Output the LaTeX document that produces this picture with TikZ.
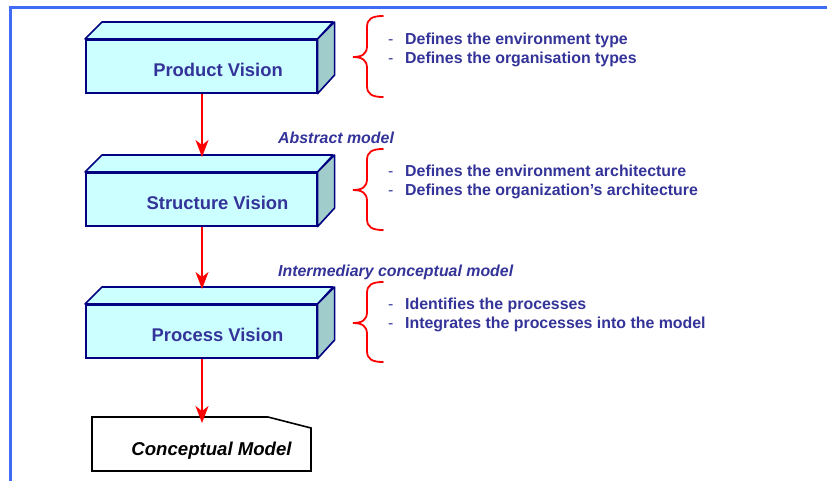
\documentclass[tikz,border=0pt]{standalone}
\usepackage{fontspec}
\setmainfont{Liberation Sans}
\usetikzlibrary{arrows.meta}
\definecolor{txtblue}{HTML}{333399}
\definecolor{boxfill}{HTML}{CCFFFF}
\definecolor{sidefill}{HTML}{A0CCCC}
\definecolor{navy}{HTML}{000080}
\definecolor{framebl}{HTML}{3F6BF5}
\begin{document}
\begin{tikzpicture}[x=1pt,y=-1pt,
  front/.style={draw=navy,fill=boxfill,line width=1.6pt,minimum width=231pt,minimum height=53pt,inner sep=0pt},
  face/.style={draw=navy,line width=1.6pt,line join=round},
  title/.style={anchor=base,text=txtblue,font=\fontsize{18.4}{22}\selectfont\bfseries,inner sep=0pt},
  bullet/.style={anchor=base west,text=txtblue,font=\fontsize{15.9}{19}\selectfont\bfseries,inner sep=0pt},
  dashmark/.style={anchor=base west,text=txtblue,font=\fontsize{15.9}{19}\selectfont,inner sep=0pt},
  note/.style={anchor=base west,text=txtblue,font=\fontsize{15.9}{19}\selectfont\bfseries\itshape,inner sep=0pt},
  flow/.style={draw=red,line width=1.6pt,-{Stealth[length=17pt,width=13pt,inset=5pt]}},
  brace/.style={draw=red,line width=1.8pt,line cap=round}]
\useasboundingbox (0,0) rectangle (827,480);
% frame
\draw[framebl,line width=3pt] (10,481) -- (10,7) -- (828,7);
% boxes
\foreach \n/\y in {pv/39,sv/172,prv/304}{
  \node[front,anchor=north west] (\n) at (85,\y) {};
  \draw[face,fill=boxfill] (\n.north west) -- ++(17,-17) -- ++(231,0) -- (\n.north east) -- cycle;
  \draw[face,fill=sidefill] (\n.north east) -- ++(17,-17) -- ++(0,53) -- (\n.south east) -- cycle;
}
\node[title] (pvt) at (218,76) {Product Vision};
\node[title] (svt) at (217.5,209) {Structure Vision};
\node[title] (prvt) at (217.5,341) {Process Vision};
% conceptual model
\coordinate (cm1) at (92,417);
\coordinate (cm2) at (268,417);
\coordinate (cm3) at (311,428);
\coordinate (cm4) at (311,471);
\coordinate (cm5) at (92,471);
\draw[black,line width=1.6pt,line join=miter] (cm1) -- (cm2) -- (cm3) -- (cm4) -- (cm5) -- cycle;
\node[anchor=base,font=\fontsize{18.6}{22}\selectfont\bfseries\itshape,inner sep=0pt] (cmt) at (211.5,455) {Conceptual Model};
% arrows
\coordinate (a1) at (202,157);
\coordinate (a2) at (202,289);
\coordinate (a3) at (202,423);
\draw[flow] (pv.south -| a1) -- (a1);
\draw[flow] (sv.south -| a2) -- (a2);
\draw[flow] (prv.south -| a3) -- (a3);
% labels
\node[note] (l1) at (278,143) {Abstract model};
\node[note] (l2) at (278,276) {Intermediary conceptual model};
% braces
\foreach \t/\m/\b in {16/57/97,149/190/230,282/323/362}{
  \draw[brace] (383,\t) .. controls (372,\t) and (367,\t+3) .. (367,\t+11)
     -- (367,\m-11) .. controls (367,\m-3) and (362,\m) .. (353,\m)
     .. controls (362,\m) and (367,\m+3) .. (367,\m+11)
     -- (367,\b-11) .. controls (367,\b-3) and (372,\b) .. (383,\b);
}
% bullets
\node[dashmark] (d11) at (388,44) {-};
\node[bullet] (b11) at (405,44) {Defines the environment type};
\node[dashmark] (d12) at (388,63) {-};
\node[bullet] (b12) at (405,63) {Defines the organisation types};
\node[dashmark] (d21) at (388,176) {-};
\node[bullet] (b21) at (405,176) {Defines the environment architecture};
\node[dashmark] (d22) at (388,195) {-};
\node[bullet] (b22) at (405,195) {Defines the organization’s architecture};
\node[dashmark] (d31) at (388,309) {-};
\node[bullet] (b31) at (405,309) {Identifies the processes};
\node[dashmark] (d32) at (388,328) {-};
\node[bullet] (b32) at (405,328) {Integrates the processes into the model};
\end{tikzpicture}
\end{document}
